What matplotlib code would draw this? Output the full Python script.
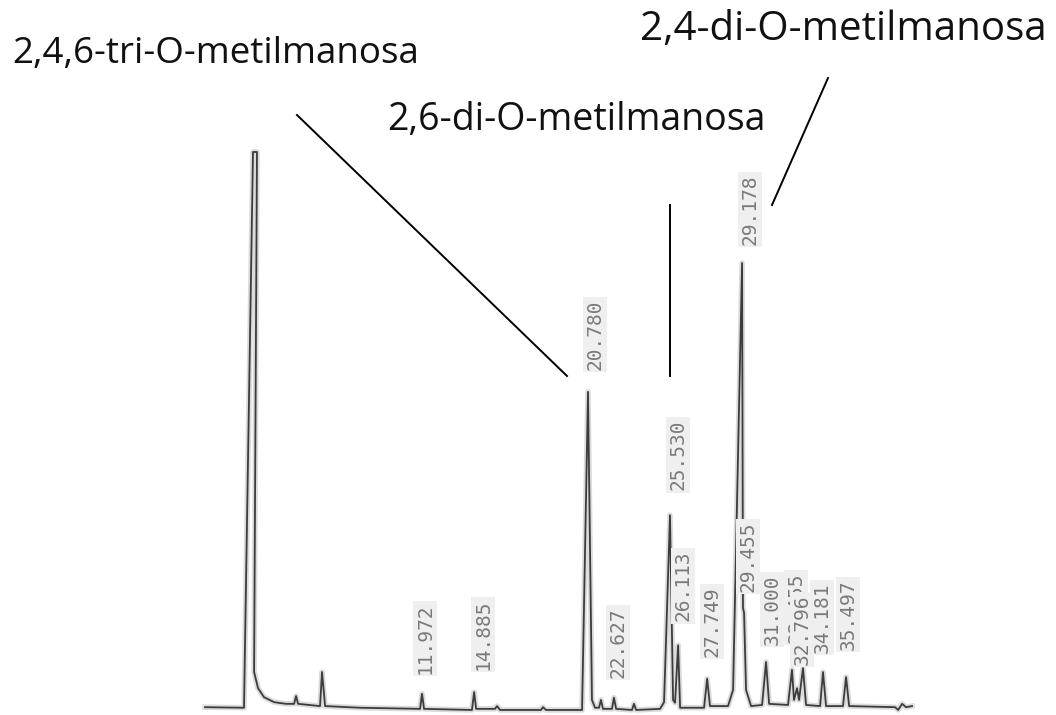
import matplotlib
matplotlib.use("Agg")
import matplotlib.pyplot as plt
from matplotlib.lines import Line2D

# chromatogram trace (time in min, signal in % of full scale)
trace_time = [-0.07, 2.09, 2.59, 2.81, 2.65, 2.87, 3.20, 3.76, 4.42, 4.87, 4.98, 5.09,
              6.31, 6.42, 6.59, 8.53, 11.86, 11.97, 12.08, 14.74, 14.86, 14.97,
              16.02, 16.13, 16.30, 18.57, 18.68, 18.85, 20.85, 21.18, 21.40, 21.57,
              21.79, 21.90, 22.01, 22.51, 22.62, 22.74, 23.62, 23.73, 23.85,
              25.18, 25.40, 25.73, 25.90, 26.01, 26.18, 26.29, 27.62, 27.79, 27.95,
              28.95, 29.23, 29.73, 29.78, 29.84, 29.95, 30.23,
              30.84, 31.06, 31.23, 32.28, 32.50, 32.61, 32.78, 32.89, 33.11, 33.28,
              34.06, 34.22, 34.39, 35.33, 35.50, 35.67, 38.22, 38.39, 38.61, 38.83, 39.16]
trace_signal = [0.5, 0.4, 100.0, 100.0, 6.8, 3.9, 2.3, 1.4, 1.1, 1.1, 2.5, 1.1,
                0.7, 6.8, 0.7, 0.4, 0.2, 2.9, 0.2, 0.0, 3.2, 0.2,
                0.2, 0.7, 0.0, 0.0, 0.5, 0.0, 0.0, 57.0, 1.8, 0.4,
                0.4, 1.8, 0.2, 0.2, 2.2, 0.2, 0.0, 1.1, 0.0,
                0.2, 1.4, 34.9, 1.8, 1.3, 11.6, 0.4, 0.4, 5.6, 0.7,
                0.7, 3.6, 80.1, 18.3, 17.4, 3.6, 0.7,
                0.9, 8.6, 1.1, 0.9, 7.2, 1.8, 3.9, 1.8, 7.5, 0.9,
                0.7, 6.8, 0.7, 0.7, 5.9, 0.7, 0.5, 0.0, 1.1, 0.5, 0.7]

# labelled peaks
peak_labels = ["11.972", "14.885", "20.780", "22.627", "25.530", "26.113", "27.749",
               "29.178", "29.455", "31.000", "32.455", "32.796", "34.181", "35.497"]
peak_time = [11.97, 14.86, 21.18, 22.62, 25.73, 26.18, 27.79,
             29.73, 29.84, 31.06, 32.50, 33.11, 34.22, 35.50]
peak_height = [2.9, 3.2, 57.0, 2.2, 34.9, 11.6, 5.6,
               80.1, 17.4, 8.6, 7.2, 7.5, 6.8, 5.9]

# offset of each printed label from its peak apex (pixels: right, up)
label_dx = [3, 9, 7, 4, 8, 5, 5, 8, 4, 6, 4, -1, -1, 2]
label_dy = [20, 22, 22, 20, 25, 24, 22, 18, 21, 17, 27, 3, 19, 27]

# compound names and their pointer lines (figure pixels)
compounds = ["2,4,6-tri-O-metilmanosa", "2,6-di-O-metilmanosa", "2,4-di-O-metilmanosa"]
compound_xy = [(12, 63), (387, 130), (640, 40)]
compound_size = [26.5, 27, 29]
pointer_lines = [((297, 115), (567, 376)), ((670, 205), (670, 376)), ((828, 78), (772, 205))]

W, H = 1056, 715
fig = plt.figure(figsize=(W / 100, H / 100), dpi=100)
ax = fig.add_axes([0, 0, 1, 1])

ax.plot(trace_time, trace_signal, color='#9a9a9a', lw=4, alpha=0.35)
ax.plot(trace_time, trace_signal, color='#3c3c3c', lw=1.3)
ax.set_xlim(-11.45, 47.15)
ax.set_ylim(-0.9, 127.24)
ax.axis('off')

for lab, t, h, dx, dy in zip(peak_labels, peak_time, peak_height, label_dx, label_dy):
    ax.annotate(lab, xy=(t, h), xytext=(dx * 0.72, dy * 0.72), textcoords='offset points',
                rotation=90, ha='center', va='bottom', fontsize=14,
                family='DejaVu Sans Mono', color='#7a7a7a',
                bbox=dict(boxstyle='square,pad=0.12', fc='#efefef', ec='none'))

for name, (px, py), fs in zip(compounds, compound_xy, compound_size):
    fig.text(px / W, 1 - py / H, name, fontsize=fs, family='Open Sans',
             color='#111111', ha='left', va='baseline')

for (x0, y0), (x1, y1) in pointer_lines:
    fig.add_artist(Line2D([x0 / W, x1 / W], [1 - y0 / H, 1 - y1 / H],
                          transform=fig.transFigure, color='black', lw=1.4))

fig.savefig('out.png', dpi=100)
